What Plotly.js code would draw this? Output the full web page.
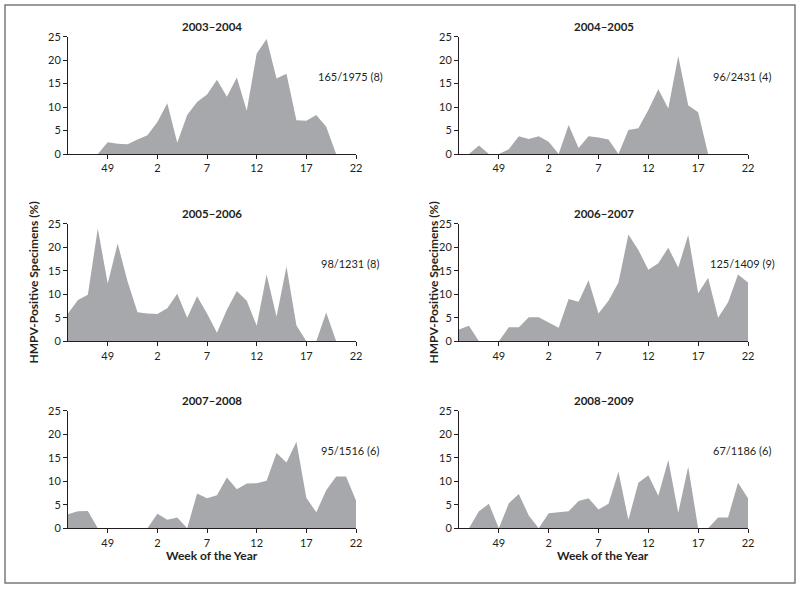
<!DOCTYPE html>
<html><head><meta charset="utf-8">
<script src="https://cdn.plot.ly/plotly-3.0.1.min.js"></script>
<style>body{margin:0;background:#fff}#c{width:800px;height:590px}</style>
</head><body><div id="c"></div>
<script>
const weeks = [45,46,47,48,49,50,51,52,1,2,3,4,5,6,7,8,9,10,11,12,13,14,15,16,17,18,19,20,21,22];
const tickWeeks = [49,2,7,12,17,22];
const seasons = ["2003\u20132004","2004\u20132005","2005\u20132006","2006\u20132007","2007\u20132008","2008\u20132009"];
const counts = ["165/1975 (8)","96/2431 (4)","98/1231 (8)","125/1409 (9)","95/1516 (6)","67/1186 (6)"];
const s2003 = [null,null,null,0,2.5,2.2,2.1,3.1,4.0,6.8,10.8,2.4,8.3,11.1,12.7,15.8,12.2,16.3,9.2,21.4,24.5,16.1,17.1,7.2,7.1,8.3,5.8,0,null,null];
const s2004 = [null,0,1.8,0,0,1.0,3.8,3.2,3.8,2.6,0,6.2,1.3,3.8,3.5,3.1,0,5.1,5.5,9.4,13.8,9.7,20.9,10.4,8.9,0,null,null,null,null];
const s2005 = [5.9,8.8,9.9,24.0,12.3,20.8,12.7,6.2,5.9,5.8,7.0,10.1,5.0,9.6,5.9,1.8,6.7,10.7,8.6,3.3,14.2,5.2,15.9,3.4,0,0,6.1,0,null,null];
const s2006 = [2.5,3.3,0,0,0,3.0,3.0,5.1,5.1,4.0,2.9,9.0,8.4,13.0,5.9,8.6,12.5,22.7,19.4,15.2,16.6,19.9,15.7,22.6,10.2,13.5,5.0,8.3,14.2,12.5];
const s2007 = [3.0,3.6,3.7,0,0,0,0,0,0,3.1,1.8,2.3,0,7.4,6.4,7.0,10.8,8.3,9.5,9.6,10.1,16.0,14.0,18.4,6.5,3.4,8.1,11.0,11.0,5.9];
const s2008 = [null,0,3.6,5.2,0,5.3,7.3,2.7,0,3.2,3.4,3.6,5.8,6.4,4.0,5.2,12.0,1.8,9.7,11.3,6.9,14.5,3.3,13.1,0,0,2.3,2.3,9.7,6.4];
const series = [s2003,s2004,s2005,s2006,s2007,s2008];

const W = 800, H = 590;
const xDom = [[68/W,356/W],[459/W,748/W]];
const rowsPx = [[36.7,154],[223.7,341.3],[410.7,528.3]];
const yDom = rowsPx.map(r => [1 - r[1]/H, 1 - r[0]/H]);
const font = "Lato, 'Open Sans', sans-serif";
const txt = '#231f20';
const xIdx = weeks.map((w,i)=>i);
const tickIdx = tickWeeks.map(w => weeks.indexOf(w));

const data = [];
const layout = {
  width: W, height: H, margin:{l:0,r:0,t:0,b:0},
  paper_bgcolor:'#fff', plot_bgcolor:'rgba(0,0,0,0)', showlegend:false,
  font:{family:font, color:txt, size:10},
  annotations:[], shapes:[
    {type:'rect', xref:'paper', yref:'paper', x0:5/W, x1:795/W, y0:1-583/H, y1:1-5/H, line:{color:'#7a7a7a', width:1.5}}
  ]
};
series.forEach((vals,k)=>{
  const n = k+1, col = k%2, row = Math.floor(k/2);
  const sfx = n===1?'':String(n);
  data.push({type:'scatter', x:xIdx, y:vals, xaxis:'x'+sfx, yaxis:'y'+sfx,
    mode:'none', fill:'tozeroy', fillcolor:'#a7a8ab', hoverinfo:'skip', connectgaps:false});
  const common = {showline:true, linecolor:'#231f20', linewidth:1, ticks:'outside', ticklen:4, tickcolor:'#231f20',
    showgrid:false, zeroline:false, tickfont:{size:11, family:font, color:txt}, fixedrange:true};
  layout['xaxis'+sfx] = Object.assign({domain:xDom[col], anchor:'y'+sfx, range:[0,29], tickvals:tickIdx,
    ticktext:tickWeeks.map(String)}, common);
  layout['yaxis'+sfx] = Object.assign({domain:yDom[row], anchor:'x'+sfx, range:[0,25], tickvals:[0,5,10,15,20,25]}, common);
  const cx = (xDom[col][0]+xDom[col][1])/2;
  layout.annotations.push({xref:'paper', yref:'paper', x:cx, y:1-(rowsPx[row][0]-10)/H, text:'<b>'+seasons[k]+'</b>', showarrow:false,
    font:{size:11.5, family:font, color:txt}, xanchor:'center', yanchor:'middle'});
  const ax = col===0 ? 350/W : 742/W;
  layout.annotations.push({xref:'paper', yref:'paper', x:ax, y:1-(rowsPx[row][0]+40)/H, text:counts[k], showarrow:false,
    font:{size:11, family:font, color:txt}, xanchor:'center', yanchor:'middle'});
});
// y-axis titles (middle row)
[33, 433].forEach(px=>{
  layout.annotations.push({xref:'paper', yref:'paper', x:px/W, y:1-282.5/H, text:'<b>HMPV-Positive Specimens (%)</b>',
    textangle:-90, showarrow:false, font:{size:12, family:font, color:txt}, xanchor:'center', yanchor:'middle'});
});
// x-axis titles (bottom row)
[212, 603].forEach(px=>{
  layout.annotations.push({xref:'paper', yref:'paper', x:px/W, y:1-555/H, text:'<b>Week of the Year</b>',
    showarrow:false, font:{size:12, family:font, color:txt}, xanchor:'center', yanchor:'middle'});
});
Plotly.newPlot('c', data, layout, {staticPlot:true});
</script></body></html>
